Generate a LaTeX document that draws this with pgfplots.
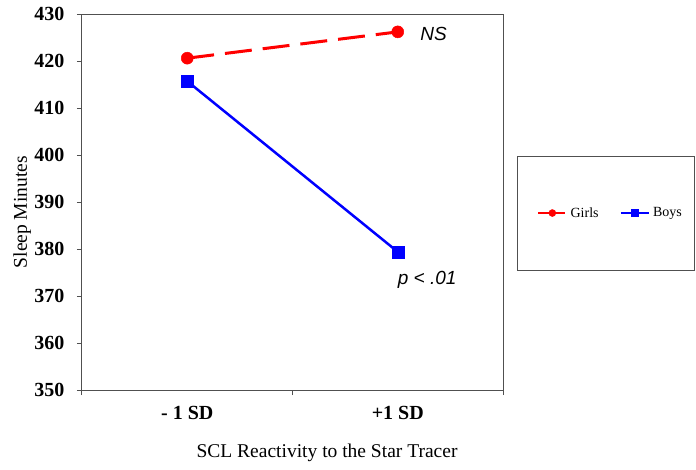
\documentclass[border=0pt]{standalone}
\usepackage{pgfplots}
\pgfplotsset{compat=1.18}
\usepackage{fontspec}
\setmainfont{Liberation Serif}
\newfontfamily\arialfont{Liberation Sans}

\definecolor{axisgray}{RGB}{80,80,80}

\begin{document}
\begin{tikzpicture}[x=1pt,y=1pt]
\path[use as bounding box] (-82,-79) rectangle (614,390);
\begin{axis}[
  at={(0,0)}, anchor=south west,
  scale only axis,
  width=421pt, height=376pt,
  xmin=0, xmax=2,
  ymin=350, ymax=430,
  ytick={350,360,...,430},
  xtick={0,1,2},
  xticklabels={},
  xtick pos=bottom, ytick pos=left,
  extra x ticks={0.5,1.5},
  extra x tick labels={- 1 SD,+1 SD},
  extra x tick style={major tick length=0pt, tick style={draw=none},
    xticklabel style={yshift=-13pt}},
  tick align=outside,
  major tick length=5pt,
  tick style={axisgray, line width=1pt},
  axis line style={axisgray, line width=1pt},
  /pgf/number format/assume math mode=true,
  ticklabel style={font=\bfseries\fontsize{20}{24}\selectfont, text=black},
  yticklabel style={xshift=-9pt},
  ylabel={Sleep Minutes},
  ylabel style={at={(axis description cs:-0.142,0.473)}, anchor=center,
    font=\fontsize{19.5}{23}\selectfont},
  xlabel={SCL Reactivity to the Star Tracer},
  xlabel style={at={(axis description cs:0.582,-0.168)}, anchor=center,
    font=\fontsize{19.5}{23}\selectfont},
  clip=false,
  legend columns=2,
  legend style={draw=none, fill=none,
    at={(axis description cs:1.2553,0.4707)}, anchor=center,
    font=\fontsize{14}{16}\selectfont,
    /tikz/every odd column/.append style={column sep=1pt},
    /tikz/every even column/.append style={column sep=19pt}},
  legend image code/.code={
    \draw[#1, mark=none, line width=2.5pt] (0pt,0pt) -- (28pt,0pt);
    \draw[#1, solid, mark size=3.5pt] plot coordinates {(14pt,0pt)};
  },
]
% Girls
\addplot[red, line width=3pt, dash pattern=on 27pt off 11pt,
  mark=*, mark size=6pt, mark options={solid, line width=0.5pt}]
  coordinates {(0.5,420.6) (1.5,426.2)};
\addlegendentry{Girls}
% Boys
\addplot[blue, line width=2.5pt,
  mark=square*, mark size=6pt, mark options={solid, line width=0.5pt}]
  coordinates {(0.5,415.7) (1.5,379.4)};
\addlegendentry{Boys}

\node[font=\arialfont\itshape\fontsize{19}{22}\selectfont, anchor=center]
  at (axis cs:1.67,425.7) {NS};
\node[font=\arialfont\itshape\fontsize{19}{22}\selectfont, anchor=center]
  at (axis cs:1.64,373.4) {p < .01};

\draw[axisgray, line width=1pt]
  (axis description cs:1.0356,0.6223) rectangle (axis description cs:1.456,0.319);
\end{axis}
\end{tikzpicture}
\end{document}
